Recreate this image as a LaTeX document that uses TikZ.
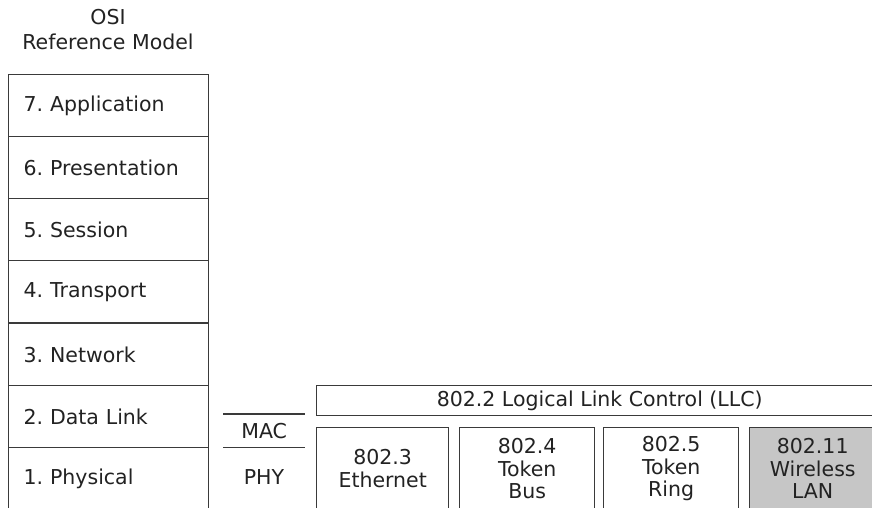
\documentclass[tikz,border=0pt]{standalone}
\usepackage{fontspec}
\setmainfont{DejaVu Sans}
\frenchspacing
\definecolor{linec}{HTML}{3A3A3A}
\definecolor{textc}{HTML}{222222}
\definecolor{wlan}{HTML}{C6C6C6}
\begin{document}
\begin{tikzpicture}[x=1pt,y=-1pt,
  font=\fontsize{20.5}{22.5}\selectfont\frenchspacing, text=textc,
  box/.style={draw=linec, line width=1.4pt, rectangle, inner sep=0pt},
  layer/.style={box, anchor=north west, minimum width=200pt, minimum height=62pt, text width=170pt, align=left},
  std/.style={box, anchor=north west, minimum height=82pt, align=center},
  rule/.style={draw=linec, line width=1.4pt}]
\clip (0,0) rectangle (872,507);
\node[align=center, font=\fontsize{20.5}{25}\selectfont] (title) at (108,30) {OSI\\Reference Model};
\node[layer] (l7) at (8,74) {7. Application};
\node[layer] (l6) at (8,136) {6. Presentation};
\node[layer] (l5) at (8,198) {5. Session};
\node[layer] (l4) at (8,260) {4. Transport};
\node[layer] (l3) at (8,323) {3. Network};
\node[layer] (l2) at (8,385) {2. Data Link};
\node[layer] (l1) at (8,447) {1. Physical};
\node[anchor=north west, minimum width=82pt, minimum height=33pt, inner sep=0pt] (mac) at (223,414) {MAC};
\node (phy) at (264,477) {PHY};
\draw[rule] (mac.north west) -- (mac.north east);
\draw[rule] (mac.south west) -- (mac.south east);
\node[box, anchor=north west, minimum width=566pt, minimum height=30pt] (llc) at (316,385) {802.2 Logical Link Control (LLC)};
\node[std, minimum width=132pt] (e3) at (316,427) {802.3\\Ethernet};
\node[std, minimum width=135pt] (e4) at (459,427) {802.4\\Token\\Bus};
\node[std, minimum width=135pt] (e5) at (603,427) {802.5\\Token\\Ring};
\node[std, minimum width=126pt, fill=wlan] (e11) at (749,427) {802.11\\Wireless\\LAN};
\end{tikzpicture}
\end{document}
